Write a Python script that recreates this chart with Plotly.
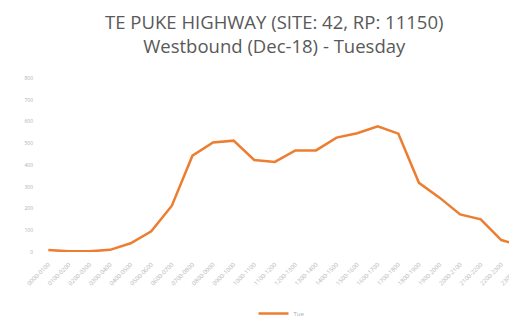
import plotly.graph_objects as go

hours = ["0000-0100","0100-0200","0200-0300","0300-0400","0400-0500","0500-0600",
         "0600-0700","0700-0800","0800-0900","0900-1000","1000-1100","1100-1200",
         "1200-1300","1300-1400","1400-1500","1500-1600","1600-1700","1700-1800",
         "1800-1900","1900-2000","2000-2100","2100-2200","2200-2300","2300-2400"]
tuesday = [9, 3, 3, 10, 40, 95, 213, 443, 504, 512, 423, 414,
           467, 467, 526, 546, 578, 544, 318, 250, 173, 150, 55, 27]
y_ticks = [0, 100, 200, 300, 400, 500, 600, 700, 800]

fig = go.Figure()
fig.add_trace(go.Scatter(x=hours, y=tuesday, mode="lines", name="Tue",
                         line=dict(color="#ED7D31", width=2.5)))

fig.update_layout(
    width=517, height=320,
    margin=dict(l=30, r=0, t=70, b=55),
    paper_bgcolor="white", plot_bgcolor="white",
    title=dict(text="TE PUKE HIGHWAY (SITE: 42, RP: 11150)<br>Westbound (Dec-18) - Tuesday",
               x=0.515, xanchor="center", y=0.935, yanchor="top",
               font=dict(family="Open Sans", size=18.5, color="#595959")),
    showlegend=True,
    legend=dict(orientation="h", x=0.5, xanchor="center", y=-0.27, yanchor="top",
                font=dict(size=6, color="#aaaaaa"), bgcolor="rgba(0,0,0,0)"),
    font=dict(family="Open Sans"),
)
fig.update_xaxes(type="category", range=[-0.5, 23.15], tickangle=-45,
                 tickfont=dict(size=6, color="#b8b8b8"), showgrid=False,
                 showline=False, ticks="", zeroline=False, ticklabelstandoff=7)
fig.update_yaxes(range=[0, 800], tickvals=y_ticks, showgrid=False,
                 tickfont=dict(size=5, color="#b0b0b0"), zeroline=False, showline=False,
                 ticks="", ticklabelstandoff=4)

fig.write_html("out.html")
